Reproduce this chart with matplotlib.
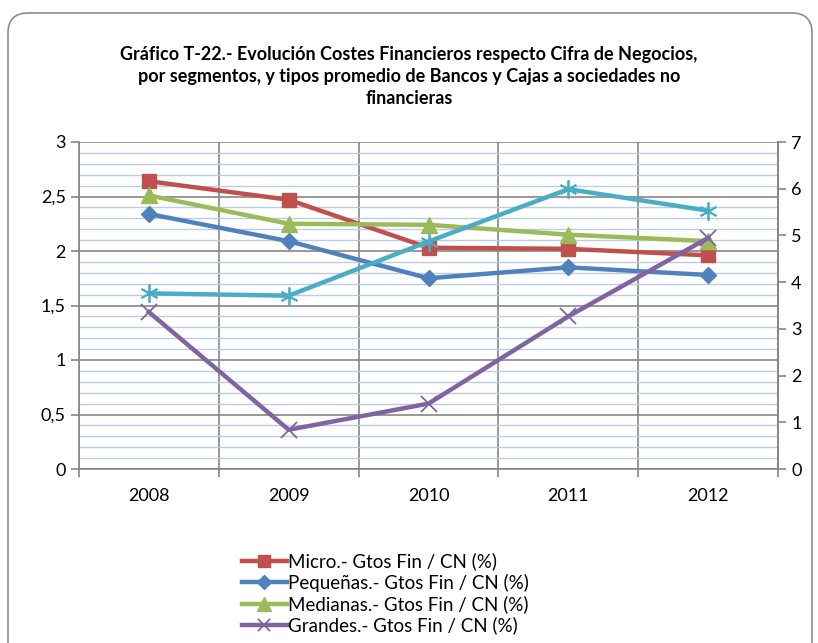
import matplotlib
matplotlib.use('Agg')
import matplotlib.pyplot as plt
from matplotlib.patches import FancyBboxPatch
from matplotlib.ticker import MultipleLocator, FixedLocator
import numpy as np

anios = ['2008', '2009', '2010', '2011', '2012']
micro = [2.64, 2.47, 2.03, 2.02, 1.96]
pequenas = [2.34, 2.09, 1.75, 1.85, 1.78]
medianas = [2.51, 2.25, 2.24, 2.15, 2.09]
grandes = [1.44, 0.36, 0.60, 1.40, 2.12]
tipo_promedio = [3.76, 3.71, 4.87, 5.99, 5.53]   # eje derecho

plt.rcParams['font.family'] = ['Lato', 'DejaVu Sans']

fig = plt.figure(figsize=(8.18, 6.43), dpi=100)

# marco redondeado del gráfico (coordenadas en píxeles)
marco = FancyBboxPatch((8, -60), 804, 690,
                       boxstyle='round,pad=0,rounding_size=20',
                       transform=None, facecolor='white',
                       edgecolor='#8c8c8c', linewidth=1.2, zorder=0)
fig.add_artist(marco)

ax = fig.add_axes([79 / 818, (643 - 469) / 643, 699 / 818, 327 / 643])
ax.set_facecolor('none')
ax2 = ax.twinx()

x = np.arange(len(anios))
gris = '#868686'

ax.set_xlim(-0.5, 4.5)
ax.set_ylim(0, 3)
ax2.set_ylim(0, 7)

# rejilla
ax.yaxis.set_major_locator(MultipleLocator(0.5))
ax.yaxis.set_minor_locator(MultipleLocator(0.1))
ax.grid(which='minor', axis='y', color='#b9cde5', linewidth=1)
ax.grid(which='major', axis='y', color=gris, linewidth=1.2)
ax.xaxis.set_major_locator(FixedLocator(np.arange(-0.5, 5, 1)))
ax.xaxis.set_minor_locator(FixedLocator(x))
ax.xaxis.set_major_formatter(plt.NullFormatter())
ax.set_xticklabels(anios, minor=True)
ax.grid(which='major', axis='x', color=gris, linewidth=1.2)
ax.set_axisbelow(True)

ax.plot(x, micro, color='#C0504D', lw=3.2, marker='s', ms=10.5,
        label='Micro.- Gtos Fin / CN (%)', zorder=3)
ax.plot(x, pequenas, color='#4F81BD', lw=3.2, marker='D', ms=8.5,
        label='Pequeñas.- Gtos Fin / CN (%)', zorder=3)
ax.plot(x, medianas, color='#9BBB59', lw=3.2, marker='^', ms=11.5,
        label='Medianas.- Gtos Fin / CN (%)', zorder=3)
ax.plot(x, grandes, color='#8064A2', lw=3.2, marker='x', ms=11, mew=1.3,
        label='Grandes.- Gtos Fin / CN (%)', zorder=3)
ax2.plot(x, tipo_promedio, color='#4BACC6', lw=3.2, marker=(6, 2, 0),
         ms=13, mew=1.3, zorder=3)

ax.set_yticks(np.arange(0, 3.01, 0.5))
ax.set_yticklabels(['0', '0,5', '1', '1,5', '2', '2,5', '3'])
ax2.set_yticks(range(0, 8))

for a in (ax, ax2):
    for s in a.spines.values():
        s.set_color(gris)
        s.set_linewidth(1.2)
    a.spines['top'].set_visible(False)
ax2.spines['left'].set_visible(False)
ax2.spines['bottom'].set_visible(False)

ax.tick_params(axis='both', which='major', length=6, color=gris,
               labelsize=13, width=1.2)
ax.tick_params(axis='y', which='minor', length=0)
ax.tick_params(axis='x', which='minor', length=0, labelsize=13, pad=14)
ax2.tick_params(axis='y', length=6, color=gris, labelsize=13, width=1.2)

fig.text(0.5, 1 - 46 / 643,
         'Gráfico T-22.- Evolución Costes Financieros respecto Cifra de Negocios,\n'
         'por segmentos, y tipos promedio de Bancos y Cajas a sociedades no\n'
         'financieras',
         ha='center', va='top', fontsize=13, fontweight='bold',
         linespacing=1.35)

leg = fig.legend(loc='upper left', bbox_to_anchor=(234 / 818, 1 - 545 / 643),
                 frameon=False, fontsize=13.5, handlelength=2.4,
                 handletextpad=0.1, labelspacing=0.18, borderaxespad=0,
                 markerscale=0.85)

plt.savefig('out.png', dpi=100)
